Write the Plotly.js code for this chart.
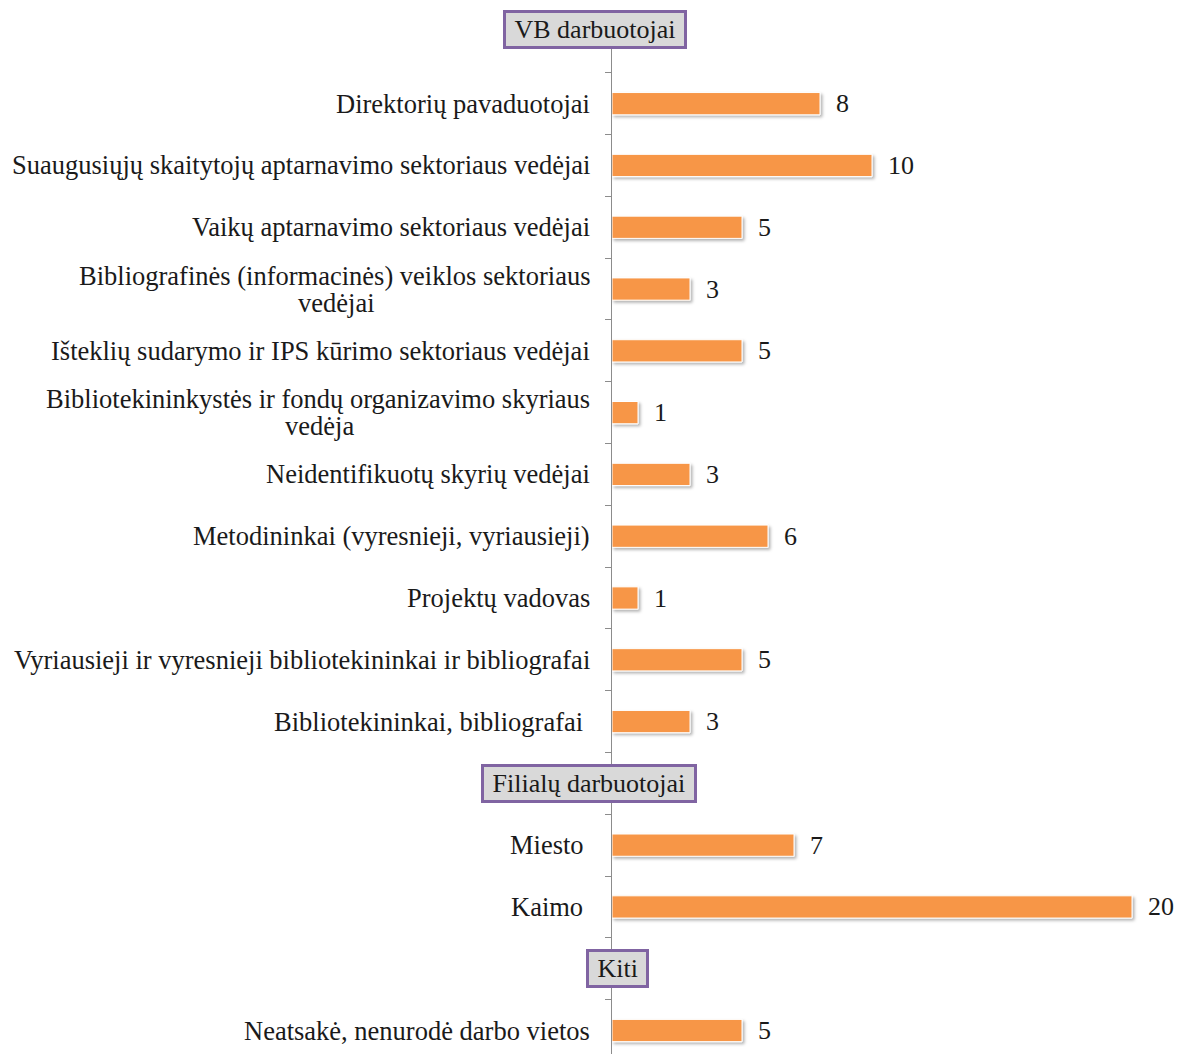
<!DOCTYPE html>
<html>
<head>
<meta charset="utf-8">
<script src="https://cdn.plot.ly/plotly-3.0.1.min.js"></script>
<style>
  html, body { margin: 0; padding: 0; background: #fff; overflow: hidden; }
  #chart { width: 1179px; height: 1054px; }
</style>
</head>
<body>
<div id="chart"></div>
<script>
// ---- Data ----
const categories = [
  "VB darbuotojai",
  "Direktorių pavaduotojai",
  "Suaugusiųjų skaitytojų aptarnavimo sektoriaus vedėjai",
  "Vaikų aptarnavimo sektoriaus vedėjai",
  "Bibliografinės (informacinės) veiklos sektoriaus<br>vedėjai",
  "Išteklių sudarymo ir IPS kūrimo sektoriaus vedėjai",
  "Bibliotekininkystės ir fondų organizavimo skyriaus<br>vedėja",
  "Neidentifikuotų skyrių vedėjai",
  "Metodininkai (vyresnieji, vyriausieji)",
  "Projektų vadovas",
  "Vyriausieji ir vyresnieji bibliotekininkai ir bibliografai",
  "Bibliotekininkai, bibliografai\u00a0",
  "Filialų darbuotojai",
  "Miesto\u00a0",
  "Kaimo\u00a0",
  "Kiti",
  "Neatsakė, nenurodė darbo vietos"
];
const values = [null, 8, 10, 5, 3, 5, 1, 3, 6, 1, 5, 3, null, 7, 20, null, 5];
const headers = ["VB darbuotojai", "Filialų darbuotojai", "Kiti"];

// ---- Styles ----
const FONT = '"Liberation Serif", "Times New Roman", serif';
const FSIZE = 26;
const LSIZE = 26.5;
const TEXT_COLOR = '#1a1a1a';
const BAR_COLOR = '#F79646';
const LABEL_GAP = -20;
const LINE_HALF = 13.5;
const headerShift = {
  "VB darbuotojai": {x: -17.5, y: 12.5},
  "Filialų darbuotojai": {x: -23.5, y: 0},
  "Kiti": {x: 5.5, y: 0}
};

const ctx = document.createElement('canvas').getContext('2d');
ctx.font = LSIZE + 'px "Liberation Serif"';

const barY = [], barX = [];
categories.forEach((c, i) => {
  if (values[i] !== null) { barY.push(c); barX.push(values[i]); }
});

const trace = {
  type: 'bar',
  orientation: 'h',
  y: barY,
  x: barX,
  width: 0.36,
  marker: { color: BAR_COLOR, line: { color: '#ffffff', width: 1 } },
  hoverinfo: 'none',
  showlegend: false
};

const font = { family: FONT, size: FSIZE, color: TEXT_COLOR };
const lfont = { family: FONT, size: LSIZE, color: TEXT_COLOR };
const annotations = [];
categories.forEach((c, i) => {
  if (headers.includes(c)) {
    const s = headerShift[c];
    annotations.push({
      xref: 'x', yref: 'y', x: 0, y: c,
      xanchor: 'center', yanchor: 'middle',
      xshift: s.x, yshift: s.y,
      text: '\u00a0' + c + '\u00a0', showarrow: false, font: font,
      bgcolor: '#D9D9D9', bordercolor: '#8064A2', borderwidth: 3, borderpad: 2
    });
    return;
  }
  const lines = c.split('<br>');
  if (lines.length === 1) {
    annotations.push({
      xref: 'paper', yref: 'y', x: 0, y: c,
      xanchor: 'right', yanchor: 'middle', xshift: LABEL_GAP,
      text: c, showarrow: false, font: lfont
    });
  } else {
    const w1 = ctx.measureText(lines[0]).width;
    annotations.push({
      xref: 'paper', yref: 'y', x: 0, y: c,
      xanchor: 'right', yanchor: 'middle', xshift: LABEL_GAP, yshift: LINE_HALF,
      text: lines[0], showarrow: false, font: lfont
    });
    annotations.push({
      xref: 'paper', yref: 'y', x: 0, y: c,
      xanchor: 'center', yanchor: 'middle', xshift: LABEL_GAP - w1 / 2, yshift: -LINE_HALF,
      text: lines[1], showarrow: false, font: lfont
    });
  }
  annotations.push({
    xref: 'x', yref: 'y', x: values[i], y: c,
    xanchor: 'left', yanchor: 'middle', xshift: 14,
    text: String(values[i]), showarrow: false, font: font
  });
});

const layout = {
  width: 1179, height: 1054,
  margin: { l: 612, r: 8, t: 11, b: 0 },
  paper_bgcolor: '#ffffff', plot_bgcolor: '#ffffff',
  barmode: 'overlay',
  xaxis: { range: [0, 21.5], showgrid: false, zeroline: false, showticklabels: false, showline: false, ticks: '' },
  yaxis: {
    type: 'category',
    categoryorder: 'array', categoryarray: categories,
    range: [16.38, -0.5],
    showgrid: false, zeroline: false,
    showticklabels: false,
    showline: true, linecolor: '#8c8c8c', linewidth: 1,
    ticks: 'outside', ticklen: 6, tickcolor: '#8c8c8c', tickwidth: 1,
    tickson: 'boundaries'
  },
  annotations: annotations
};

Plotly.newPlot('chart', [trace], layout, { displayModeBar: false, staticPlot: true }).then(gd => {
  const svg = gd.querySelector('svg.main-svg');
  const ns = 'http://www.w3.org/2000/svg';
  let defs = svg.querySelector('defs');
  if (!defs) { defs = document.createElementNS(ns, 'defs'); svg.insertBefore(defs, svg.firstChild); }
  const f = document.createElementNS(ns, 'filter');
  f.setAttribute('id', 'barshadow');
  f.setAttribute('x', '-10%'); f.setAttribute('y', '-30%');
  f.setAttribute('width', '130%'); f.setAttribute('height', '190%');
  const ds = document.createElementNS(ns, 'feDropShadow');
  ds.setAttribute('dx', '2'); ds.setAttribute('dy', '2');
  ds.setAttribute('stdDeviation', '1.5');
  ds.setAttribute('flood-color', '#000'); ds.setAttribute('flood-opacity', '0.3');
  f.appendChild(ds); defs.appendChild(f);
  gd.querySelectorAll('.barlayer .point path').forEach(p => p.setAttribute('filter', 'url(#barshadow)'));
});
</script>
</body>
</html>
